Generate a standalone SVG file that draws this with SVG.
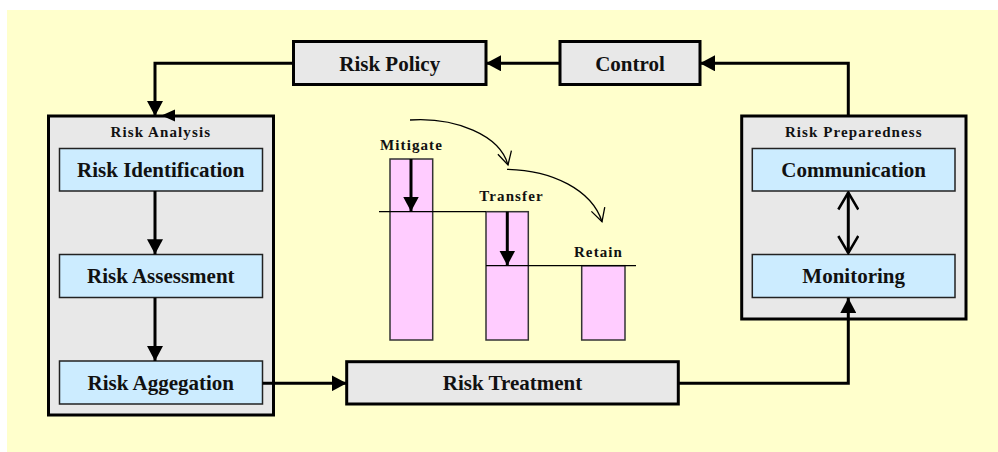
<svg xmlns="http://www.w3.org/2000/svg" width="998" height="452" viewBox="0 0 998 452">
<style>
.outer{fill:#E8E8E8;stroke:#000;stroke-width:3}
.inner{fill:#CCECFF;stroke:#222;stroke-width:1.5}
.bar{fill:#FFCCFF;stroke:#333;stroke-width:1.5}
.big{font-family:"Liberation Serif","Times New Roman",serif;font-weight:bold;font-size:21px;text-anchor:middle;fill:#111}
.small{font-family:"Liberation Serif","Times New Roman",serif;font-weight:bold;font-size:15px;letter-spacing:1.1px;text-anchor:middle;fill:#111}
.conn{fill:none;stroke:#000;stroke-width:3}
.thin{fill:none;stroke:#000;stroke-width:1.3}
</style>
<defs>
<marker id="ah" markerUnits="userSpaceOnUse" markerWidth="16" markerHeight="16" refX="15" refY="8" orient="auto">
<path d="M0,0 L15,8 L0,16 z" fill="#000"/>
</marker>
<marker id="av" markerUnits="userSpaceOnUse" markerWidth="20" markerHeight="22" refX="18" refY="11" orient="auto-start-reverse">
<path d="M1,1 L18,11 L1,21" fill="none" stroke="#000" stroke-width="2.5"/>
</marker>
<marker id="avs" markerUnits="userSpaceOnUse" markerWidth="16" markerHeight="16" refX="14" refY="8" orient="auto">
<path d="M1,1 L14,8 L1,15" fill="none" stroke="#000" stroke-width="1.3"/>
</marker>
</defs>
<rect x="7" y="10" width="991" height="442" fill="#FFFFCC"/>

<g id="risk-policy">
<rect class="outer" x="293.5" y="41.5" width="192.5" height="43"/>
<text class="big" x="389.7" y="71">Risk Policy</text>
</g>
<g id="control">
<rect class="outer" x="560" y="41.5" width="140" height="43"/>
<text class="big" x="630" y="71">Control</text>
</g>
<g id="risk-analysis">
<rect class="outer" x="48.5" y="116" width="225" height="299"/>
<text class="small" x="160.8" y="137">Risk Analysis</text>
</g>
<g id="risk-identification">
<rect class="inner" x="59.5" y="148.5" width="203" height="42.5"/>
<text class="big" x="160.8" y="176.7">Risk Identification</text>
</g>
<g id="risk-assessment">
<rect class="inner" x="59.5" y="254.5" width="203" height="43"/>
<text class="big" x="160.8" y="283.3">Risk Assessment</text>
</g>
<g id="risk-aggegation">
<rect class="inner" x="59.5" y="361" width="203" height="43"/>
<text class="big" x="160.8" y="389.8">Risk Aggegation</text>
</g>
<g id="risk-treatment">
<rect class="outer" x="346.7" y="361.7" width="331.6" height="42.3"/>
<text class="big" x="512.5" y="390.3">Risk Treatment</text>
</g>
<g id="risk-preparedness">
<rect class="outer" x="741.7" y="116" width="224.3" height="203"/>
<text class="small" x="853.8" y="137">Risk Preparedness</text>
</g>
<g id="communication">
<rect class="inner" x="752.3" y="148.5" width="202.7" height="42.5"/>
<text class="big" x="853.7" y="176.7">Communication</text>
</g>
<g id="monitoring">
<rect class="inner" x="752.3" y="254.5" width="202.7" height="43"/>
<text class="big" x="853.7" y="283.3">Monitoring</text>
</g>

<g id="treatment-options">
<rect class="bar" x="390" y="159" width="42.7" height="181"/>
<rect class="bar" x="486" y="211.7" width="42.3" height="128.3"/>
<rect class="bar" x="581.7" y="265.7" width="43.3" height="74.3"/>
<line x1="379" y1="211.7" x2="486" y2="211.7" stroke="#000" stroke-width="1.3"/>
<line x1="486" y1="265.7" x2="636" y2="265.7" stroke="#000" stroke-width="1.3"/>
<text class="small" x="411.5" y="150">Mitigate</text>
<text class="small" x="511.5" y="200.5">Transfer</text>
<text class="small" x="598.5" y="257">Retain</text>
</g>

<g id="connectors">
<path class="conn" d="M848.3,116 V63.3 H700" marker-end="url(#ah)"/>
<path class="conn" d="M560,63.3 H486" marker-end="url(#ah)"/>
<path class="conn" d="M293.5,63.3 H155 V116" marker-end="url(#ah)"/>
<path d="M161.5,115.5 L175,109.5 L175,121.5 z" fill="#000"/>
<path class="conn" d="M155,191 V254.3" marker-end="url(#ah)"/>
<path class="conn" d="M155,297.7 V361" marker-end="url(#ah)"/>
<path class="conn" d="M262.5,383.3 H346.7" marker-end="url(#ah)"/>
<path class="conn" d="M678.3,383.3 H848.3 V298" marker-end="url(#ah)"/>
<path class="conn" d="M848.3,192.5 V253" marker-start="url(#av)" marker-end="url(#av)"/>
<path class="conn" d="M411,159 V211.5" marker-end="url(#ah)"/>
<path class="conn" d="M507.3,211.7 V265.5" marker-end="url(#ah)"/>
<path class="thin" d="M410,120 C455,117 500,135 508,165" marker-end="url(#avs)"/>
<path class="thin" d="M507,169.3 C552,170 592,190 602,221.7" marker-end="url(#avs)"/>
</g>
</svg>
